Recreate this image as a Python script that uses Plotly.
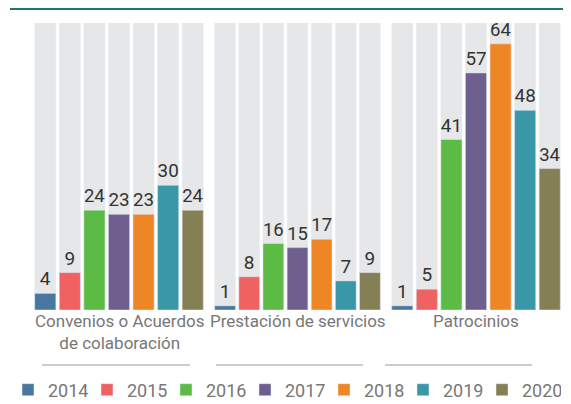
import plotly.graph_objects as go
from plotly.subplots import make_subplots

years = ['2014', '2015', '2016', '2017', '2018', '2019', '2020']
groups = ['Convenios o Acuerdos<br>de colaboración', 'Prestación de servicios', 'Patrocinios']
convenios = [4, 9, 24, 23, 23, 30, 24]
prestacion = [1, 8, 16, 15, 17, 7, 9]
patrocinios = [1, 5, 41, 57, 64, 48, 34]
values = [convenios, prestacion, patrocinios]
colors = ['#4a77a0', '#f06262', '#5bbb45', '#6e5f8e', '#ef8626', '#3997a8', '#857f55']
bg_max = 69

# page body has an 8px margin, so work in figure pixels = screen pixels - 8
OFF = 8
W, H = 571 - OFF, 404 - OFF
font = 'Roboto, sans-serif'


def px_x(x):
    return (x - OFF) / W


def px_y(y):
    return 1 - (y - OFF) / H


fig = make_subplots(rows=1, cols=3)

for c, vals in enumerate(values, start=1):
    fig.add_trace(go.Bar(x=years, y=[bg_max] * len(years), marker_color='#e6e7e8',
                         showlegend=False, hoverinfo='skip'), row=1, col=c)
    for i, yr in enumerate(years):
        fig.add_trace(go.Bar(x=[yr], y=[vals[i]], name=yr, marker_color=colors[i],
                             legendgroup=yr, showlegend=(c == 1),
                             text=[vals[i]], textposition='outside', cliponaxis=False,
                             textfont=dict(size=19, color='#333333', family=font)),
                      row=1, col=c)

# panel positions in screen pixels
panels = [(33, 205), (213, 382), (390, 562)]
for c, (a, b) in enumerate(panels, start=1):
    fig.update_xaxes(domain=[px_x(a), px_x(b)], row=1, col=c)
    fig.update_yaxes(domain=[px_y(310), px_y(23)], range=[0, bg_max], row=1, col=c)

fig.update_xaxes(showticklabels=False, showgrid=False, zeroline=False, showline=False)
fig.update_yaxes(showticklabels=False, showgrid=False, zeroline=False, showline=False)

for (a, b), g in zip(panels, groups):
    fig.add_annotation(x=px_x((a + b) / 2), y=px_y(309), xref='paper', yref='paper',
                       text=g, showarrow=False, xanchor='center', yanchor='top',
                       font=dict(size=17, color='#777777', family=font))

# underlines
for a, b in [(42, 190), (216, 363), (385, 532)]:
    fig.add_shape(type='line', xref='paper', yref='paper', x0=px_x(a), x1=px_x(b),
                  y0=px_y(365), y1=px_y(365), line=dict(color='#9a9a9a', width=1))
# top rule
fig.add_shape(type='line', xref='paper', yref='paper', x0=px_x(10), x1=1,
              y0=px_y(9), y1=px_y(9), line=dict(color='#1f7a6c', width=2))

fig.update_layout(
    width=W, height=H,
    margin=dict(l=0, r=0, t=0, b=0, autoexpand=False),
    barmode='overlay', bargap=0.14,
    plot_bgcolor='white', paper_bgcolor='white',
    font=dict(family=font),
    legend=dict(orientation='h', x=0, y=px_y(390), yanchor='middle', xanchor='left',
                bgcolor='rgba(0,0,0,0)', traceorder='normal',
                font=dict(size=18, color='#777777', family=font),
                entrywidth=34, tracegroupgap=0),
)

fig.write_html("out.html")
